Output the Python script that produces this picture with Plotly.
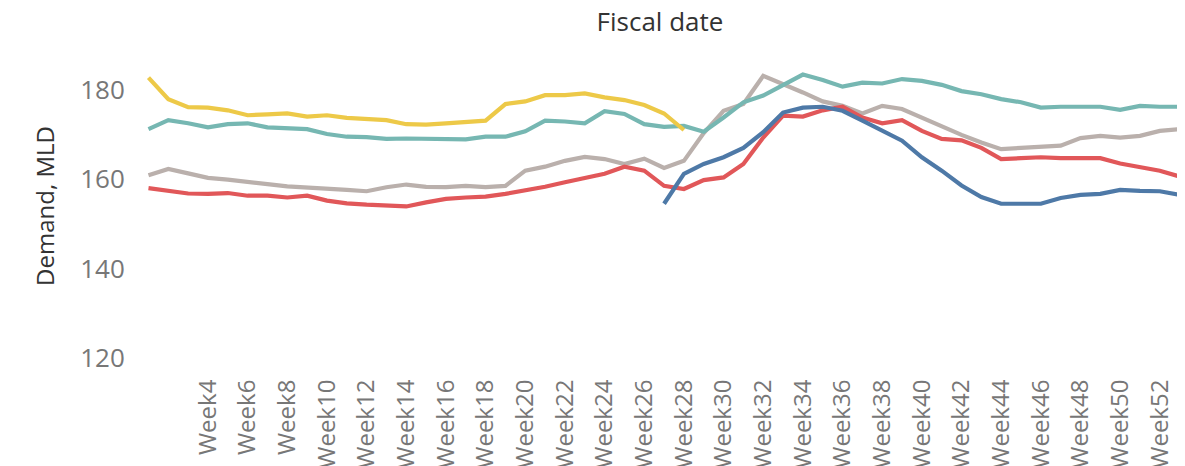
import plotly.graph_objects as go

weeks = list(range(1, 54))

series_a_weeks = list(range(1, 29))  # yellow
series_a = [182.7, 177.9, 176.1, 176.0, 175.4, 174.3, 174.5, 174.7, 174.0, 174.3,
            173.7, 173.4, 173.2, 172.3, 172.2, 172.5, 172.9, 173.1, 176.8, 177.4,
            178.8, 178.8, 179.2, 178.3, 177.7, 176.6, 174.7, 171.0]

series_b = [171.2, 173.2, 172.5, 171.6, 172.3, 172.5, 171.6, 171.4, 171.2, 170.1,
            169.5, 169.4, 169.0, 169.1, 169.0, 168.9, 168.9, 169.5, 169.5, 170.7,
            173.1, 172.9, 172.5, 175.2, 174.6, 172.3, 171.7, 171.9, 170.6, 173.8,
            177.2, 178.7, 181.1, 183.4, 182.2, 180.7, 181.6, 181.4, 182.4, 182.0,
            181.1, 179.7, 179.0, 177.9, 177.2, 176.0, 176.2, 176.2, 176.2, 175.5,
            176.4, 176.2, 176.2]  # teal

series_c = [160.9, 162.3, 161.3, 160.3, 159.9, 159.5, 158.9, 158.4, 158.2, 157.8,
            157.6, 157.3, 158.2, 158.8, 158.3, 158.2, 158.5, 158.2, 158.5, 161.9,
            162.8, 164.1, 165.0, 164.5, 163.4, 164.6, 162.5, 164.1, 170.3, 175.3,
            176.8, 183.1, 181.3, 179.4, 177.4, 176.4, 174.7, 176.4, 175.7, 173.8,
            171.7, 169.9, 168.2, 166.7, 167.0, 167.3, 167.5, 169.2, 169.7, 169.3,
            169.7, 170.8, 171.2]  # gray

series_d = [158.0, 157.4, 156.8, 156.7, 156.9, 156.3, 156.3, 155.9, 156.3, 155.2,
            154.6, 154.3, 154.1, 153.9, 154.8, 155.6, 155.9, 156.1, 156.7, 157.4,
            158.3, 159.3, 160.3, 161.2, 162.8, 161.9, 158.5, 157.8, 159.8, 160.4,
            163.4, 169.3, 174.2, 174.0, 175.4, 176.2, 173.8, 172.5, 173.2, 170.8,
            169.0, 168.7, 167.0, 164.5, 164.7, 164.9, 164.7, 164.7, 164.7, 163.5,
            162.8, 161.9, 160.6]  # red

series_e_weeks = list(range(27, 54))  # blue
series_e = [154.5, 161.2, 163.4, 164.9, 167.0, 170.5, 174.9, 176.0, 176.2, 175.3,
            173.1, 170.8, 168.6, 164.9, 161.9, 158.6, 156.0, 154.5, 154.4, 154.5,
            155.8, 156.5, 156.7, 157.6, 157.4, 157.3, 156.5]

tick_weeks = list(range(4, 53, 2))
tick_text = [f"Week{w}" for w in tick_weeks]

FONT = "Open Sans"
fig = go.Figure()
line_w = 4.2
fig.add_trace(go.Scatter(x=weeks, y=series_c, mode="lines", line=dict(color="#BAB0AC", width=line_w), showlegend=False))
fig.add_trace(go.Scatter(x=weeks, y=series_b, mode="lines", line=dict(color="#76B7B2", width=line_w), showlegend=False))
fig.add_trace(go.Scatter(x=series_a_weeks, y=series_a, mode="lines", line=dict(color="#EDC948", width=line_w), showlegend=False))
fig.add_trace(go.Scatter(x=weeks, y=series_d, mode="lines", line=dict(color="#E15759", width=line_w), showlegend=False))
fig.add_trace(go.Scatter(x=series_e_weeks, y=series_e, mode="lines", line=dict(color="#4E79A7", width=line_w), showlegend=False))

fig.update_layout(
    width=1177, height=458,
    margin=dict(l=127, r=0, t=46, b=108),
    paper_bgcolor="white", plot_bgcolor="white",
    font=dict(family=FONT, color="#777777"),
    title=dict(text="Fiscal date", x=0.5, xref="paper", xanchor="center",
               y=1 - 14 / 458, yref="container", yanchor="middle",
               font=dict(family=FONT, size=26, color="#333333")),
)
fig.update_xaxes(
    range=[0.32, 53.27], tickmode="array", tickvals=tick_weeks, ticktext=tick_text,
    tickangle=-90, tickfont=dict(family=FONT, size=24, color="#777777"),
    showgrid=False, zeroline=False, showline=False,
    ticks="outside", ticklen=11, tickcolor="rgba(0,0,0,0)", automargin=False,
)
fig.update_yaxes(
    range=[120, 188], tickvals=[120, 140, 160, 180],
    tickfont=dict(family=FONT, size=26, color="#777777"),
    showgrid=False, zeroline=False, showline=False,
    ticks="outside", ticklen=4, tickcolor="rgba(0,0,0,0)", automargin=False,
    title=dict(text="Demand, MLD", standoff=18, font=dict(family=FONT, size=24, color="#333333")),
)

fig.write_html("out.html")
